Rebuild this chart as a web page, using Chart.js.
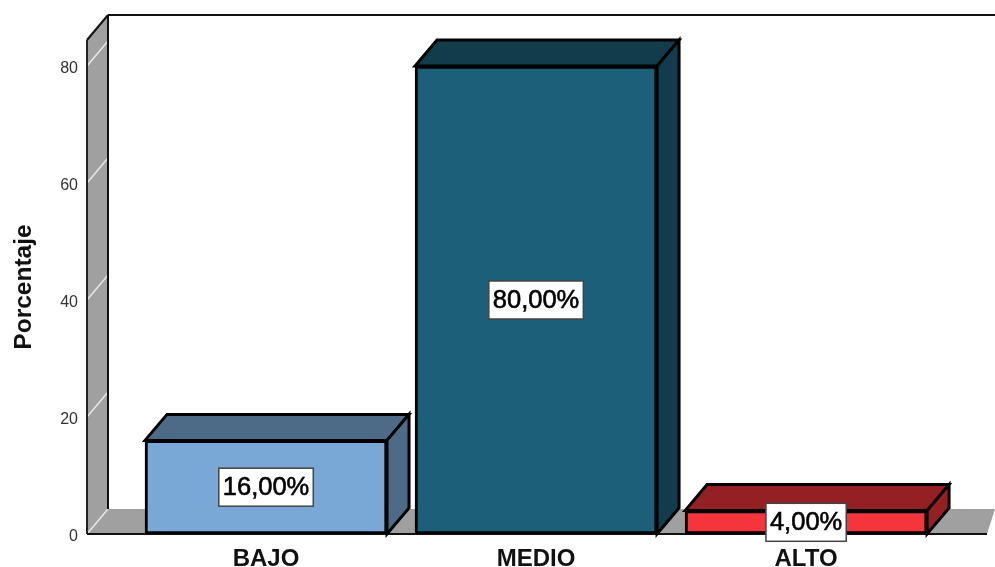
<!DOCTYPE html>
<html>
<head>
<meta charset="utf-8">
<style>
  html, body { margin: 0; padding: 0; background: #fff; overflow: hidden; }
  canvas { display: block; }
</style>
<script src="https://cdn.jsdelivr.net/npm/chart.js@4"></script>
</head>
<body>
<canvas id="chart" width="995" height="567"></canvas>
<script>
const categories = ['BAJO', 'MEDIO', 'ALTO'];
const porcentaje = [16, 80, 4];
const yTicks = [0, 20, 40, 60, 80];

const frontColors = ['#7aa8d6', '#1c5f78', '#f4353b'];
const darkColors = ['#4d6a87', '#123c4b', '#952024'];
const wallColor = '#a0a0a0';

// depth of the fake 3d, bars stick out a bit more than the walls
const wallDx = 21, wallDy = 25;
const barDx = 22, barDy = 26;

function poly(ctx, pts, fill, stroke, lw) {
    ctx.beginPath();
    pts.forEach((p, i) => i ? ctx.lineTo(p[0], p[1]) : ctx.moveTo(p[0], p[1]));
    ctx.closePath();
    if (fill) { ctx.fillStyle = fill; ctx.fill(); }
    if (stroke) { ctx.strokeStyle = stroke; ctx.lineWidth = lw; ctx.lineJoin = 'miter'; ctx.stroke(); }
}

function line(ctx, x1, y1, x2, y2, color, lw) {
    ctx.beginPath();
    ctx.moveTo(x1, y1);
    ctx.lineTo(x2, y2);
    ctx.strokeStyle = color;
    ctx.lineWidth = lw;
    ctx.stroke();
}

const box3d = {
    id: 'box3d',
    beforeDatasetsDraw(chart) {
        const ctx = chart.ctx;
        const area = chart.chartArea;
        const y = chart.scales.y;
        const y0 = y.getPixelForValue(0);
        const backX = area.left + wallDx;
        const backY = y0 - wallDy;
        ctx.save();
        // floor
        poly(ctx, [[area.left, y0], [backX, backY], [chart.width, backY], [area.right, y0]], wallColor);
        // left wall
        poly(ctx, [[area.left, area.top], [backX, area.top - wallDy], [backX, backY], [area.left, y0]], wallColor);
        yTicks.forEach(t => {
            const py = y.getPixelForValue(t);
            line(ctx, area.left, py, backX, py - wallDy, '#e8e8e8', 1.5);
        });
        // outlines
        line(ctx, area.left, area.top, backX, area.top - wallDy, '#111', 2);
        line(ctx, area.left, area.top, area.left, y0, '#222', 2);
        line(ctx, backX, area.top - wallDy, backX, backY, '#111', 2);
        line(ctx, backX, area.top - wallDy, chart.width, area.top - wallDy, '#111', 2);
        line(ctx, area.left, y0, area.right, y0, '#111', 2);
        // bar top and side faces
        chart.getDatasetMeta(0).data.forEach((bar, i) => {
            const half = bar.width / 2;
            const l = bar.x - half, r = bar.x + half;
            poly(ctx, [[l, bar.y], [l + barDx, bar.y - barDy], [r + barDx, bar.y - barDy], [r, bar.y]], darkColors[i], '#000', 3);
            poly(ctx, [[r, bar.y], [r + barDx, bar.y - barDy], [r + barDx, y0 - barDy], [r, y0]], darkColors[i], '#000', 3);
        });
        ctx.restore();
    },
    afterDatasetsDraw(chart) {
        const ctx = chart.ctx;
        ctx.save();
        ctx.font = '25.5px "Liberation Sans"';
        ctx.textAlign = 'center';
        ctx.textBaseline = 'middle';
        chart.getDatasetMeta(0).data.forEach((bar, i) => {
            const txt = porcentaje[i].toFixed(2).replace('.', ',') + '%';
            const cy = (bar.y + bar.base) / 2;
            const w = ctx.measureText(txt).width + 8, h = 38;
            ctx.fillStyle = '#fff';
            ctx.fillRect(bar.x - w / 2, cy - h / 2, w, h);
            ctx.strokeStyle = '#444';
            ctx.lineWidth = 1.5;
            ctx.strokeRect(bar.x - w / 2, cy - h / 2, w, h);
            ctx.fillStyle = '#000';
            ctx.strokeStyle = '#000';
            ctx.lineWidth = 0.6;
            ctx.fillText(txt, bar.x, cy + 1);
            ctx.strokeText(txt, bar.x, cy + 1);
        });
        ctx.restore();
    }
};

new Chart(document.getElementById('chart'), {
    type: 'bar',
    data: {
        datasets: [{
            data: porcentaje.map((v, i) => ({ x: i, y: v })),
            backgroundColor: frontColors,
            borderColor: '#000',
            borderWidth: 3,
            borderSkipped: false,
            barThickness: 242
        }]
    },
    options: {
        responsive: false,
        animation: false,
        layout: { padding: { top: 40, right: 8, left: 0, bottom: 0 } },
        plugins: { legend: { display: false }, tooltip: { enabled: false } },
        scales: {
            x: {
                type: 'linear',
                offset: false,
                min: -0.663,
                max: 2.67,
                afterBuildTicks: s => { s.ticks = categories.map((c, i) => ({ value: i })); },
                afterFit: s => { s.height = 33; },
                grid: { display: false },
                border: { display: false },
                ticks: {
                    autoSkip: false,
                    maxRotation: 0,
                    padding: 3,
                    color: '#111',
                    font: { family: 'Liberation Sans', size: 24, weight: 'bold' },
                    callback: v => categories[v]
                }
            },
            y: {
                min: 0,
                max: 84.44,
                afterBuildTicks: s => { s.ticks = yTicks.map(v => ({ value: v })); },
                afterFit: s => { s.width = 87; },
                grid: { display: false },
                border: { display: false },
                title: {
                    display: true,
                    text: 'Porcentaje',
                    color: '#111',
                    padding: { top: 10, bottom: 0 },
                    font: { family: 'Liberation Sans', size: 24.5, weight: 'bold' }
                },
                ticks: {
                    padding: 1,
                    labelOffset: 3,
                    color: '#333',
                    font: { family: 'Liberation Sans', size: 16 }
                }
            }
        }
    },
    plugins: [box3d]
});
</script>
</body>
</html>
